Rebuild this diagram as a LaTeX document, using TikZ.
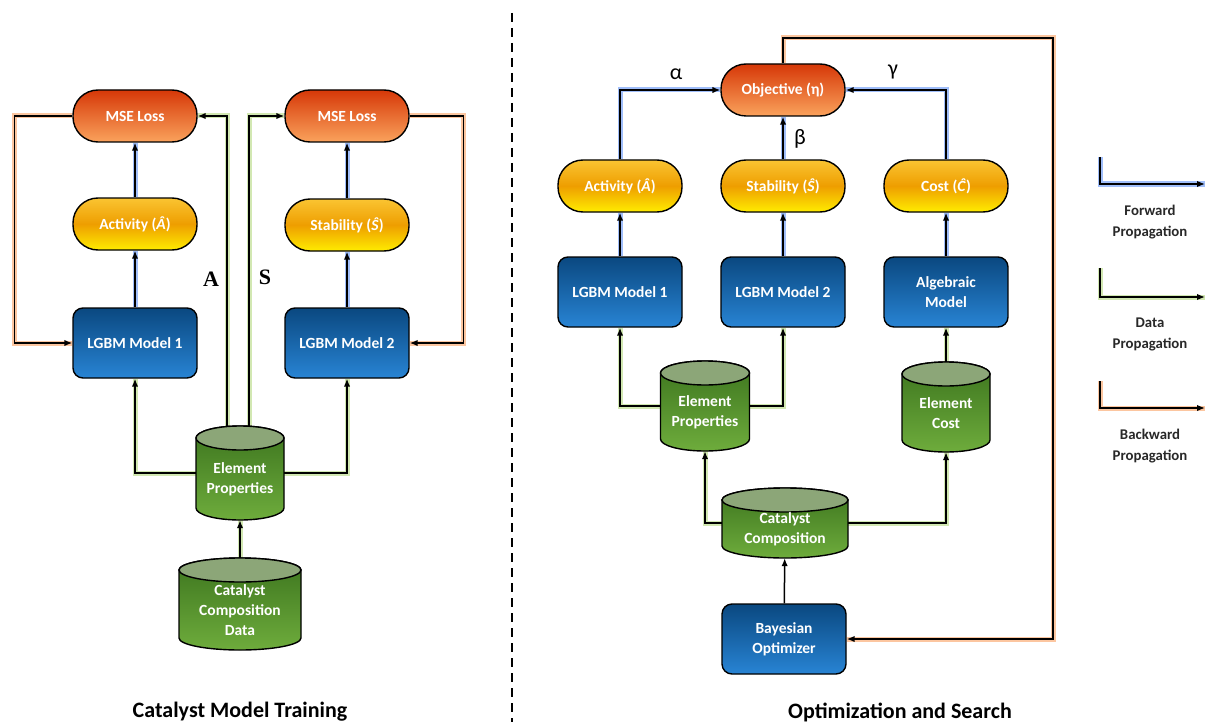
\documentclass[tikz,border=0pt]{standalone}
\usepackage{fontspec}
\setmainfont{Carlito}
\newfontfamily\letterfont{Liberation Serif}
\usepackage{tikz}
\usetikzlibrary{arrows.meta}

\definecolor{lossTop}{RGB}{214,56,8}
\definecolor{lossBot}{RGB}{250,162,92}
\definecolor{predTop}{RGB}{250,196,50}
\definecolor{predMid}{RGB}{238,158,0}
\definecolor{predBot}{RGB}{255,236,0}
\definecolor{modTop}{RGB}{10,72,128}
\definecolor{modBot}{RGB}{40,132,212}
\definecolor{cylTop}{RGB}{60,116,30}
\definecolor{cylBot}{RGB}{110,172,60}
\definecolor{cylCap}{RGB}{140,166,120}
\definecolor{fwdGlow}{RGB}{160,190,250}
\definecolor{dataGlow}{RGB}{210,232,178}
\definecolor{backGlow}{RGB}{252,198,160}
\definecolor{legText}{RGB}{40,40,40}

\pgfdeclarelayer{bg}
\pgfsetlayers{bg,main}

% data store: name, x, y, width, height, text
\newcommand{\datacyl}[6]{%
  \shadedraw[top color=cylTop, bottom color=cylBot, line width=1.4pt]
    ({#2-#4/2},{#3+#5/2-12}) -- ({#2-#4/2},{#3-#5/2+12})
    arc[start angle=180, end angle=360, x radius={#4pt/2}, y radius=12pt]
    -- ({#2+#4/2},{#3+#5/2-12})
    arc[start angle=0, end angle=180, x radius={#4pt/2}, y radius=12pt] -- cycle;
  \filldraw[fill=cylCap, line width=1.4pt] (#2,{#3+#5/2-12}) ellipse[x radius={#4pt/2}, y radius=12pt];
  \node[minimum width=#4pt, minimum height=#5pt, inner sep=0pt] (#1) at (#2,#3) {};
  \node[cyltext] (#1-txt) at (#2,{#3-6}) {#6};
}

\begin{document}
\begin{tikzpicture}[x=1pt, y=1pt, >={Latex[length=8pt,width=6.5pt]},
  box/.style={draw=black, line width=1.4pt, text=white, align=center, inner sep=2pt,
    font=\bfseries\fontsize{15.5}{20}\selectfont, minimum width=124pt},
  lossbox/.style={box, rounded corners=25pt, minimum height=52pt, top color=lossTop, bottom color=lossBot},
  predbox/.style={box, rounded corners=25pt, minimum height=52pt, top color=predTop, bottom color=predBot, middle color=predMid},
  modelbox/.style={box, rounded corners=10pt, minimum height=70pt, top color=modTop, bottom color=modBot},
  cyltext/.style={text=white, align=center, inner sep=0pt, font=\bfseries\fontsize{15.5}{20}\selectfont},
  fwd/.style={->, draw=black, line width=1.5pt, preaction={draw=fwdGlow, line width=5pt, arrows=-}},
  data/.style={->, draw=black, line width=1.5pt, preaction={draw=dataGlow, line width=5pt, arrows=-}},
  back/.style={->, draw=black, line width=1.5pt, preaction={draw=backGlow, line width=5pt, arrows=-}},
  plainarrow/.style={->, draw=black, line width=1.5pt},
  greek/.style={font=\fontsize{22}{24}\selectfont},
  letter/.style={font=\letterfont\bfseries\fontsize{22}{24}\selectfont},
  legend/.style={text=legText, align=center, font=\bfseries\fontsize{14.8}{21}\selectfont},
  title/.style={font=\bfseries\fontsize{22}{26}\selectfont}]
\useasboundingbox (0,0) rectangle (1206,-722);

% divider
\draw[line width=2pt, dash pattern=on 9pt off 6pt] (512,-13) -- (512,-722);

% training side
\node[lossbox] (loss1) at (135,-116) {MSE Loss};
\node[predbox] (act1) at (135,-224) {Activity (\textit{Â})};
\node[modelbox] (lgbm1) at (135,-343) {LGBM Model 1};
\node[lossbox] (loss2) at (347,-116) {MSE Loss};
\node[predbox] (stab1) at (347,-225) {Stability (\textit{Ŝ})};
\node[modelbox] (lgbm2) at (347,-343) {LGBM Model 2};
\datacyl{ep1}{240}{-473}{88}{94}{Element\\Properties}
\datacyl{ccd}{240}{-604}{122}{92}{Catalyst\\Composition\\Data}
\node[letter] (labA) at (211,-279) {A};
\node[letter] (labS) at (265,-277) {S};
\node[title] (ttl1) at (240,-712) {Catalyst Model Training};

% search side
\node[lossbox] (obj) at (783,-90) {Objective (η)};
\node[predbox] (act2) at (620,-186) {Activity (\textit{Â})};
\node[predbox] (stab2) at (783,-186) {Stability (\textit{Ŝ})};
\node[predbox] (cost) at (946,-186) {Cost (\textit{Ĉ})};
\node[modelbox] (lgbm3) at (620,-292) {LGBM Model 1};
\node[modelbox] (lgbm4) at (783,-292) {LGBM Model 2};
\node[modelbox] (alg) at (946,-292) {Algebraic\\Model};
\datacyl{ep2}{705}{-406}{89}{90}{Element\\Properties}
\datacyl{ec}{946}{-407}{88}{90}{Element\\Cost}
\datacyl{cc}{785}{-523}{126}{70}{Catalyst\\Composition}
\node[modelbox] (bo) at (784,-639) {Bayesian\\Optimizer};
\node[greek] (alpha) at (676,-74) {α};
\node[greek] (beta) at (800,-139) {β};
\node[greek] (gamma) at (893,-72) {γ};
\node[title] (ttl2) at (900,-712) {Optimization and Search};
\coordinate (fbk) at (1053,-38);

% legend
\coordinate (fwdTop) at (1100,-157);
\coordinate (fwdEnd) at (1205,-184);
\coordinate (dataTop) at (1100,-268);
\coordinate (dataEnd) at (1205,-297);
\coordinate (backTop) at (1100,-381);
\coordinate (backEnd) at (1205,-408);
\node[legend] (fwdTxt) at (1150,-222) {Forward\\Propagation};
\node[legend] (dataTxt) at (1150,-334) {Data\\Propagation};
\node[legend] (backTxt) at (1150,-446) {Backward\\Propagation};

\begin{pgfonlayer}{bg}
\draw[fwd] (lgbm1) -- (act1);
\draw[fwd] (act1) -- (loss1);
\draw[fwd] (lgbm2) -- (stab1);
\draw[fwd] (stab1) -- (loss2);
\draw[back] (loss1.west) -- ++(-58,0) |- (lgbm1.west);
\draw[back] (loss2.east) -- ++(54,0) |- (lgbm2.east);
\draw[data] (ep1.west) -| (lgbm1.south);
\draw[data] (ep1.east) -| (lgbm2.south);
\draw[data] ([xshift=-13pt]ep1.north) |- (loss1.east);
\draw[data] ([xshift=9pt]ep1.north) |- (loss2.west);
\draw[data] (ccd) -- (ep1);

\draw[fwd] (act2.north) |- (obj.west);
\draw[fwd] (stab2) -- (obj);
\draw[fwd] (cost.north) |- (obj.east);
\draw[fwd] (lgbm3) -- (act2);
\draw[fwd] (lgbm4) -- (stab2);
\draw[fwd] (alg) -- (cost);
\draw[data] (ep2.west) -| (lgbm3.south);
\draw[data] (ep2.east) -| (lgbm4.south);
\draw[data] (ec) -- (alg);
\draw[data] (cc.west) -| (ep2.south);
\draw[data] (cc.east) -| (ec.south);
\draw[plainarrow] (bo) -- (cc);
\draw[back] (obj.north) |- (fbk) |- (bo.east);

\draw[fwd] (fwdTop) |- (fwdEnd);
\draw[data] (dataTop) |- (dataEnd);
\draw[back] (backTop) |- (backEnd);
\end{pgfonlayer}
\end{tikzpicture}
\end{document}
